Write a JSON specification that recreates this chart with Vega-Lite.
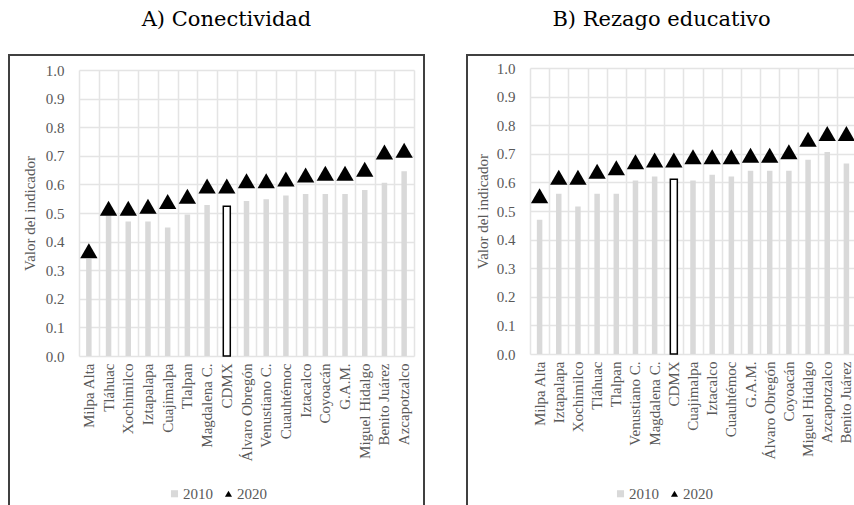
{
  "$schema": "https://vega.github.io/schema/vega-lite/v6.json",
  "padding": {"left": 8, "top": 8, "right": 0, "bottom": 0},
  "config": {
    "view": {"stroke": "#404040", "strokeWidth": 2},
    "font": "Liberation Serif",
    "concat": {"spacing": 41},
    "axis": {
      "labelFont": "Liberation Serif",
      "labelFontSize": 15,
      "labelColor": "#595959",
      "titleFont": "Liberation Serif",
      "titleFontSize": 15,
      "titleFontWeight": "normal",
      "titleColor": "#595959",
      "gridColor": "#e4e4e4",
      "gridWidth": 1.5,
      "ticks": false,
      "domain": false
    },
    "legend": {
      "labelFont": "Liberation Serif",
      "labelFontSize": 15,
      "labelColor": "#595959"
    },
    "title": {"font": "DejaVu Serif", "fontSize": 21, "fontWeight": "normal", "color": "#000000"}
  },
  "datasets": {
    "conectividad": [
      {"municipio": "Milpa Alta", "anio": "2010", "valor": 0.340},
      {"municipio": "Milpa Alta", "anio": "2020", "valor": 0.368},
      {"municipio": "Tláhuac", "anio": "2010", "valor": 0.493},
      {"municipio": "Tláhuac", "anio": "2020", "valor": 0.517},
      {"municipio": "Xochimilco", "anio": "2010", "valor": 0.470},
      {"municipio": "Xochimilco", "anio": "2020", "valor": 0.517},
      {"municipio": "Iztapalapa", "anio": "2010", "valor": 0.470},
      {"municipio": "Iztapalapa", "anio": "2020", "valor": 0.524},
      {"municipio": "Cuajimalpa", "anio": "2010", "valor": 0.449},
      {"municipio": "Cuajimalpa", "anio": "2020", "valor": 0.540},
      {"municipio": "Tlalpan", "anio": "2010", "valor": 0.495},
      {"municipio": "Tlalpan", "anio": "2020", "valor": 0.559},
      {"municipio": "Magdalena C.", "anio": "2010", "valor": 0.528},
      {"municipio": "Magdalena C.", "anio": "2020", "valor": 0.594},
      {"municipio": "CDMX", "anio": "2010", "valor": 0.524},
      {"municipio": "CDMX", "anio": "2020", "valor": 0.594},
      {"municipio": "Álvaro Obregón", "anio": "2010", "valor": 0.542},
      {"municipio": "Álvaro Obregón", "anio": "2020", "valor": 0.613},
      {"municipio": "Venustiano C.", "anio": "2010", "valor": 0.548},
      {"municipio": "Venustiano C.", "anio": "2020", "valor": 0.613},
      {"municipio": "Cuauhtémoc", "anio": "2010", "valor": 0.561},
      {"municipio": "Cuauhtémoc", "anio": "2020", "valor": 0.619},
      {"municipio": "Iztacalco", "anio": "2010", "valor": 0.566},
      {"municipio": "Iztacalco", "anio": "2020", "valor": 0.633},
      {"municipio": "Coyoacán", "anio": "2010", "valor": 0.566},
      {"municipio": "Coyoacán", "anio": "2020", "valor": 0.639},
      {"municipio": "G.A.M.", "anio": "2010", "valor": 0.566},
      {"municipio": "G.A.M.", "anio": "2020", "valor": 0.639},
      {"municipio": "Miguel Hidalgo", "anio": "2010", "valor": 0.580},
      {"municipio": "Miguel Hidalgo", "anio": "2020", "valor": 0.653},
      {"municipio": "Benito Juárez", "anio": "2010", "valor": 0.606},
      {"municipio": "Benito Juárez", "anio": "2020", "valor": 0.713},
      {"municipio": "Azcapotzalco", "anio": "2010", "valor": 0.646},
      {"municipio": "Azcapotzalco", "anio": "2020", "valor": 0.719}
    ],
    "rezago": [
      {"municipio": "Milpa Alta", "anio": "2010", "valor": 0.469},
      {"municipio": "Milpa Alta", "anio": "2020", "valor": 0.553},
      {"municipio": "Iztapalapa", "anio": "2010", "valor": 0.560},
      {"municipio": "Iztapalapa", "anio": "2020", "valor": 0.618},
      {"municipio": "Xochimilco", "anio": "2010", "valor": 0.516},
      {"municipio": "Xochimilco", "anio": "2020", "valor": 0.618},
      {"municipio": "Tláhuac", "anio": "2010", "valor": 0.560},
      {"municipio": "Tláhuac", "anio": "2020", "valor": 0.639},
      {"municipio": "Tlalpan", "anio": "2010", "valor": 0.560},
      {"municipio": "Tlalpan", "anio": "2020", "valor": 0.651},
      {"municipio": "Venustiano C.", "anio": "2010", "valor": 0.607},
      {"municipio": "Venustiano C.", "anio": "2020", "valor": 0.672},
      {"municipio": "Magdalena C.", "anio": "2010", "valor": 0.621},
      {"municipio": "Magdalena C.", "anio": "2020", "valor": 0.678},
      {"municipio": "CDMX", "anio": "2010", "valor": 0.611},
      {"municipio": "CDMX", "anio": "2020", "valor": 0.678},
      {"municipio": "Cuajimalpa", "anio": "2010", "valor": 0.607},
      {"municipio": "Cuajimalpa", "anio": "2020", "valor": 0.690},
      {"municipio": "Iztacalco", "anio": "2010", "valor": 0.627},
      {"municipio": "Iztacalco", "anio": "2020", "valor": 0.690},
      {"municipio": "Cuauhtémoc", "anio": "2010", "valor": 0.621},
      {"municipio": "Cuauhtémoc", "anio": "2020", "valor": 0.690},
      {"municipio": "G.A.M.", "anio": "2010", "valor": 0.641},
      {"municipio": "G.A.M.", "anio": "2020", "valor": 0.695},
      {"municipio": "Álvaro Obregón", "anio": "2010", "valor": 0.641},
      {"municipio": "Álvaro Obregón", "anio": "2020", "valor": 0.695},
      {"municipio": "Coyoacán", "anio": "2010", "valor": 0.641},
      {"municipio": "Coyoacán", "anio": "2020", "valor": 0.707},
      {"municipio": "Miguel Hidalgo", "anio": "2010", "valor": 0.679},
      {"municipio": "Miguel Hidalgo", "anio": "2020", "valor": 0.751},
      {"municipio": "Azcapotzalco", "anio": "2010", "valor": 0.706},
      {"municipio": "Azcapotzalco", "anio": "2020", "valor": 0.771},
      {"municipio": "Benito Juárez", "anio": "2010", "valor": 0.666},
      {"municipio": "Benito Juárez", "anio": "2020", "valor": 0.771}
    ]
  },
  "resolve": {
    "scale": {"x": "independent", "y": "independent", "color": "independent", "shape": "independent", "size": "independent", "strokeWidth": "independent"},
    "legend": {"color": "independent", "shape": "independent"}
  },
  "hconcat": [
    {
      "title": {"text": "A) Conectividad", "offset": 25, "dx": 10},
      "width": 415,
      "height": 460,
      "data": {"name": "conectividad"},
      "resolve": {"axis": {"x": "independent"}},
      "encoding": {
        "y": {
          "field": "valor", "type": "quantitative",
          "scale": {"domain": [0, 1], "range": [301, 15], "nice": false},
          "axis": {"title": "Valor del indicador", "orient": "left", "offset": -70, "values": [0, 0.1, 0.2, 0.3, 0.4, 0.5, 0.6, 0.7, 0.8, 0.9, 1.0], "format": ".1f", "labelPadding": 15, "titlePadding": 8, "grid": true}
        }
      },
      "layer": [
        {
          "transform": [{"filter": "datum.anio === '2010'"}],
          "mark": {"type": "bar", "stroke": "#000000"},
          "encoding": {
            "x": {
              "field": "municipio", "type": "nominal", "sort": null,
              "scale": {"range": [70, 405], "paddingInner": 0, "paddingOuter": 0},
              "axis": {"title": null, "orient": "top", "labels": false, "grid": true, "tickBand": "extent"}
            },
            "color": {
              "condition": {"test": "datum.municipio === 'CDMX'", "value": "#ffffff"},
              "field": "anio", "type": "nominal",
              "scale": {"domain": ["2010", "2020"], "range": ["#d9d9d9", "#000000"]},
              "legend": {"title": null, "orient": "none", "direction": "horizontal", "legendX": 158, "legendY": 431, "symbolSize": 50, "symbolStrokeWidth": 0, "labelOffset": 1, "columnPadding": 8}
            },
            "size": {"condition": {"test": "datum.municipio === 'CDMX'", "value": 7}, "value": 5.5},
            "strokeWidth": {"condition": {"test": "datum.municipio === 'CDMX'", "value": 1.5}, "value": 0}
          }
        },
        {
          "transform": [{"filter": "datum.anio === '2020'"}],
          "mark": {"type": "point", "filled": true, "opacity": 1, "size": 300},
          "encoding": {
            "x": {
              "field": "municipio", "type": "nominal", "sort": null,
              "axis": {"title": null, "orient": "bottom", "offset": -159, "labelAngle": -90, "labelPadding": 7, "grid": false}
            },
            "color": {"field": "anio", "type": "nominal", "scale": {"domain": ["2010", "2020"], "range": ["#d9d9d9", "#000000"]}},
            "shape": {"field": "anio", "type": "nominal", "scale": {"domain": ["2010", "2020"], "range": ["square", "triangle-up"]}}
          }
        }
      ]
    },
    {
      "title": {"text": "B) Rezago educativo", "offset": 25, "dx": -13},
      "width": 415,
      "height": 460,
      "data": {"name": "rezago"},
      "resolve": {"axis": {"x": "independent"}},
      "encoding": {
        "y": {
          "field": "valor", "type": "quantitative",
          "scale": {"domain": [0, 1], "range": [299, 13], "nice": false},
          "axis": {"title": "Valor del indicador", "orient": "left", "offset": -63, "values": [0, 0.1, 0.2, 0.3, 0.4, 0.5, 0.6, 0.7, 0.8, 0.9, 1.0], "format": ".1f", "labelPadding": 15, "titlePadding": 6, "grid": true}
        }
      },
      "layer": [
        {
          "transform": [{"filter": "datum.anio === '2010'"}],
          "mark": {"type": "bar", "stroke": "#000000"},
          "encoding": {
            "x": {
              "field": "municipio", "type": "nominal", "sort": null,
              "scale": {"range": [63, 389], "paddingInner": 0, "paddingOuter": 0},
              "axis": {"title": null, "orient": "top", "labels": false, "grid": true, "tickBand": "extent"}
            },
            "color": {
              "condition": {"test": "datum.municipio === 'CDMX'", "value": "#ffffff"},
              "field": "anio", "type": "nominal",
              "scale": {"domain": ["2010", "2020"], "range": ["#d9d9d9", "#000000"]},
              "legend": {"title": null, "orient": "none", "direction": "horizontal", "legendX": 146, "legendY": 431, "symbolSize": 50, "symbolStrokeWidth": 0, "labelOffset": 1, "columnPadding": 8}
            },
            "size": {"condition": {"test": "datum.municipio === 'CDMX'", "value": 7}, "value": 5.5},
            "strokeWidth": {"condition": {"test": "datum.municipio === 'CDMX'", "value": 1.5}, "value": 0}
          }
        },
        {
          "transform": [{"filter": "datum.anio === '2020'"}],
          "mark": {"type": "point", "filled": true, "opacity": 1, "size": 300},
          "encoding": {
            "x": {
              "field": "municipio", "type": "nominal", "sort": null,
              "axis": {"title": null, "orient": "bottom", "offset": -161, "labelAngle": -90, "labelPadding": 7, "grid": false}
            },
            "color": {"field": "anio", "type": "nominal", "scale": {"domain": ["2010", "2020"], "range": ["#d9d9d9", "#000000"]}},
            "shape": {"field": "anio", "type": "nominal", "scale": {"domain": ["2010", "2020"], "range": ["square", "triangle-up"]}}
          }
        }
      ]
    }
  ]
}
